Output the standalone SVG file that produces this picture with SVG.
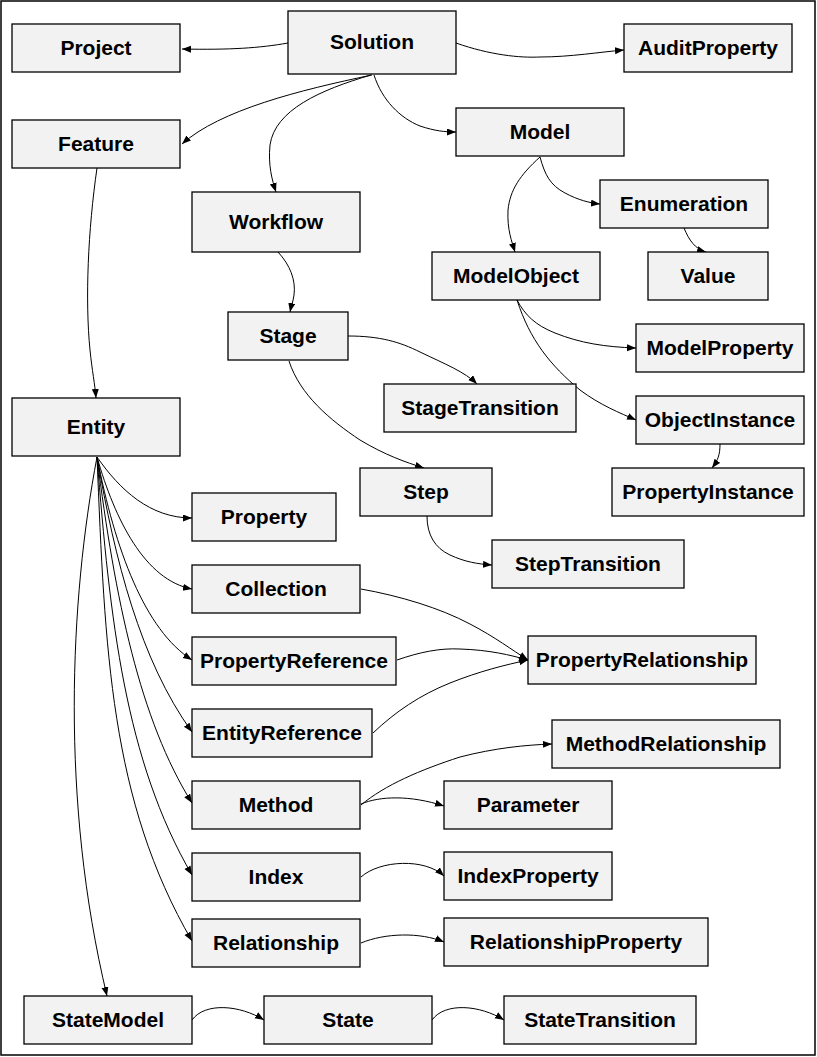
<svg xmlns="http://www.w3.org/2000/svg" width="817" height="1057" viewBox="0 0 817 1057">
<style>
.n rect{fill:#f2f2f2;stroke:#000;stroke-width:1.3}
.n text{font-family:"Liberation Sans",Arial,sans-serif;font-weight:bold;font-size:21px;text-anchor:middle;fill:#000}
#edges path{fill:none;stroke:#000;stroke-width:1;marker-end:url(#ah)}
</style>
<defs>
<marker id="ah" markerUnits="userSpaceOnUse" markerWidth="10" markerHeight="8" refX="9" refY="3.5" orient="auto">
<path d="M0,0 L9,3.5 L0,7 z" fill="#000"/>
</marker>
</defs>
<rect x="1" y="1" width="814" height="1054" fill="#fff" stroke="#000" stroke-width="1.5"/>
<g id="edges">
<path d="M288,43 C260,48 230,50 182,49"/>
<path d="M456,43 C490,55 520,58 540,57 C570,57 600,52 624,50"/>
<path d="M372,75 C300,90 220,110 182,144"/>
<path d="M371,75 C320,90 275,110 270,145 C268,165 272,180 276,192"/>
<path d="M374,75 C382,100 400,118 420,126 C435,131 445,132 456,132"/>
<path d="M97,168 C88,230 85,300 90,350 C92,370 95,385 96,398"/>
<path d="M278,252 C290,265 296,280 294,295 C293,302 291,307 290,312"/>
<path d="M348,336 C380,336 400,342 420,352 C445,364 465,372 477,384"/>
<path d="M289,361 C300,395 330,420 360,440 C385,455 405,462 424,468"/>
<path d="M540,157 C520,175 510,190 508,210 C507,230 512,242 515,252"/>
<path d="M540,157 C545,175 550,185 565,193 C578,200 590,203 600,204"/>
<path d="M684,228 C689,240 695,249 706,252"/>
<path d="M517,300 C525,315 535,325 555,333 C580,343 605,347 636,348"/>
<path d="M517,300 C530,340 550,365 580,390 C600,405 620,413 636,420"/>
<path d="M720,444 C720,455 718,460 712,468"/>
<path d="M427,516 C427,535 435,548 450,555 C465,562 478,564 492,565"/>
<path d="M97,457 C120,490 150,518 192,518"/>
<path d="M97,457 C115,520 145,580 192,589"/>
<path d="M97,457 C115,550 145,630 192,660"/>
<path d="M97,457 C115,560 140,660 192,732"/>
<path d="M97,457 C115,600 140,720 192,803"/>
<path d="M97,457 C110,620 125,760 192,875"/>
<path d="M97,457 C105,650 110,800 192,941"/>
<path d="M97,457 C70,600 60,800 107,996"/>
<path d="M361,589 C400,596 440,608 470,624 C495,637 512,650 528,660"/>
<path d="M397,660 C420,652 440,648 460,649 C490,650 510,655 528,660"/>
<path d="M373,733 C395,712 420,695 450,683 C480,671 505,665 528,660"/>
<path d="M361,805 C385,785 420,770 460,757 C495,748 525,745 552,744"/>
<path d="M361,804 C380,796 410,795 444,806"/>
<path d="M361,877 C380,860 425,858 444,876"/>
<path d="M361,943 C385,933 420,932 444,942"/>
<path d="M192,1020 C205,1002 240,1005 264,1020"/>
<path d="M432,1020 C445,1002 480,1005 504,1020"/>
</g>
<g id="Project" class="n"><rect x="12" y="24" width="168" height="48"/><text x="96" y="55">Project</text></g>
<g id="Solution" class="n"><rect x="288" y="11" width="168" height="63"/><text x="372" y="49">Solution</text></g>
<g id="AuditProperty" class="n"><rect x="624" y="24" width="168" height="48"/><text x="708" y="55">AuditProperty</text></g>
<g id="Feature" class="n"><rect x="12" y="120" width="168" height="48"/><text x="96" y="151">Feature</text></g>
<g id="Model" class="n"><rect x="456" y="108" width="168" height="48"/><text x="540" y="139">Model</text></g>
<g id="Enumeration" class="n"><rect x="600" y="180" width="168" height="48"/><text x="684" y="211">Enumeration</text></g>
<g id="Workflow" class="n"><rect x="192" y="192" width="168" height="60"/><text x="276" y="229">Workflow</text></g>
<g id="ModelObject" class="n"><rect x="432" y="252" width="168" height="48"/><text x="516" y="283">ModelObject</text></g>
<g id="Value" class="n"><rect x="648" y="252" width="120" height="48"/><text x="708" y="283">Value</text></g>
<g id="Stage" class="n"><rect x="228" y="312" width="120" height="48"/><text x="288" y="343">Stage</text></g>
<g id="ModelProperty" class="n"><rect x="636" y="324" width="168" height="48"/><text x="720" y="355">ModelProperty</text></g>
<g id="StageTransition" class="n"><rect x="384" y="384" width="192" height="48"/><text x="480" y="415">StageTransition</text></g>
<g id="Entity" class="n"><rect x="12" y="398" width="168" height="58"/><text x="96" y="434">Entity</text></g>
<g id="ObjectInstance" class="n"><rect x="636" y="396" width="168" height="48"/><text x="720" y="427">ObjectInstance</text></g>
<g id="Step" class="n"><rect x="360" y="468" width="132" height="48"/><text x="426" y="499">Step</text></g>
<g id="PropertyInstance" class="n"><rect x="612" y="468" width="192" height="48"/><text x="708" y="499">PropertyInstance</text></g>
<g id="Property" class="n"><rect x="192" y="493" width="144" height="48"/><text x="264" y="524">Property</text></g>
<g id="StepTransition" class="n"><rect x="492" y="540" width="192" height="48"/><text x="588" y="571">StepTransition</text></g>
<g id="Collection" class="n"><rect x="192" y="565" width="168" height="48"/><text x="276" y="596">Collection</text></g>
<g id="PropertyReference" class="n"><rect x="192" y="637" width="204" height="48"/><text x="294" y="668">PropertyReference</text></g>
<g id="PropertyRelationship" class="n"><rect x="528" y="636" width="228" height="48"/><text x="642" y="667">PropertyRelationship</text></g>
<g id="EntityReference" class="n"><rect x="192" y="709" width="180" height="48"/><text x="282" y="740">EntityReference</text></g>
<g id="MethodRelationship" class="n"><rect x="552" y="720" width="228" height="48"/><text x="666" y="751">MethodRelationship</text></g>
<g id="Method" class="n"><rect x="192" y="781" width="168" height="48"/><text x="276" y="812">Method</text></g>
<g id="Parameter" class="n"><rect x="444" y="781" width="168" height="48"/><text x="528" y="812">Parameter</text></g>
<g id="Index" class="n"><rect x="192" y="853" width="168" height="48"/><text x="276" y="884">Index</text></g>
<g id="IndexProperty" class="n"><rect x="444" y="852" width="168" height="48"/><text x="528" y="883">IndexProperty</text></g>
<g id="Relationship" class="n"><rect x="192" y="919" width="168" height="48"/><text x="276" y="950">Relationship</text></g>
<g id="RelationshipProperty" class="n"><rect x="444" y="918" width="264" height="48"/><text x="576" y="949">RelationshipProperty</text></g>
<g id="StateModel" class="n"><rect x="24" y="996" width="168" height="48"/><text x="108" y="1027">StateModel</text></g>
<g id="State" class="n"><rect x="264" y="996" width="168" height="48"/><text x="348" y="1027">State</text></g>
<g id="StateTransition" class="n"><rect x="504" y="996" width="192" height="48"/><text x="600" y="1027">StateTransition</text></g>
</svg>
